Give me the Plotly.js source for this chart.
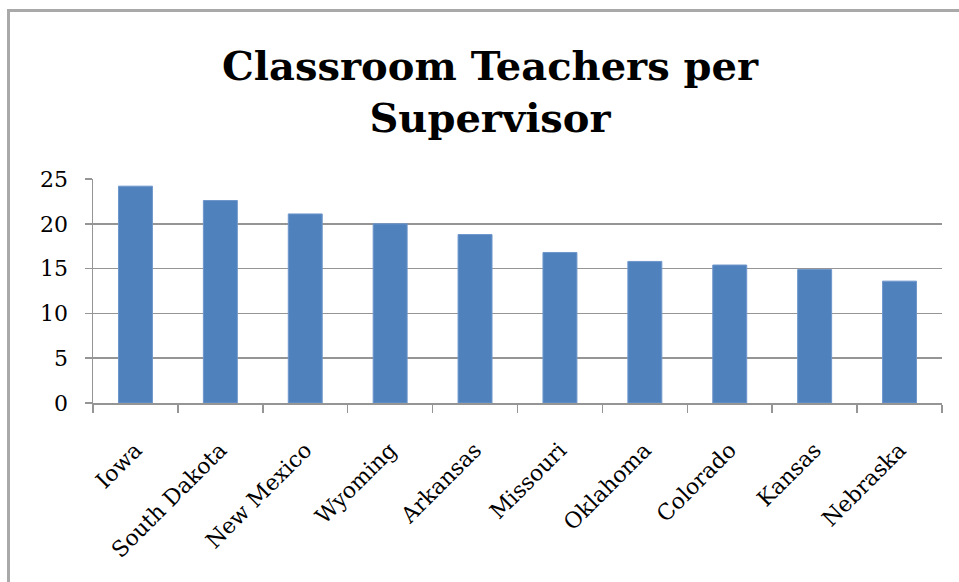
<!DOCTYPE html>
<html>
<head>
<meta charset="utf-8">
<script src="https://cdn.plot.ly/plotly-3.0.1.min.js"></script>
<style>
  html, body { margin: 0; padding: 0; background: #fff; }
  #wrap { position: relative; width: 959px; height: 582px; overflow: hidden; }
  #chart { width: 959px; height: 582px; }
  #frame { position: absolute; left: 7px; top: 9px; right: -10px; bottom: -10px;
           border-left: 3px solid #a9a9a9; border-top: 3px solid #a9a9a9; pointer-events: none; }
</style>
</head>
<body>
<div id="wrap">
  <div id="chart"></div>
  <div id="frame"></div>
</div>
<script>
const states = ["Iowa", "South Dakota", "New Mexico", "Wyoming", "Arkansas",
                "Missouri", "Oklahoma", "Colorado", "Kansas", "Nebraska"];
const teachersPerSupervisor = [24.2, 22.6, 21.1, 20.0, 18.8, 16.8, 15.8, 15.4, 14.9, 13.6];
const yTicks = [0, 5, 10, 15, 20, 25];
const chartTitle = "Classroom Teachers per<br>Supervisor";

const gridGray = "#959595";
const serif = "DejaVu Serif, Liberation Serif, serif";

Plotly.newPlot("chart", [{
  type: "bar",
  x: states,
  y: teachersPerSupervisor,
  marker: { color: "#4f81bd", line: { color: "#6f97cc", width: 1 } },
  hoverinfo: "x+y"
}], {
  width: 959, height: 582,
  paper_bgcolor: "#ffffff", plot_bgcolor: "#ffffff",
  margin: { l: 93, r: 17, t: 179, b: 179 },
  bargap: 0.6,
  showlegend: false,
  title: {
    text: chartTitle,
    font: { family: serif, size: 40, color: "#000", weight: "bold" },
    x: 0.511, xref: "container", xanchor: "center",
    y: 0.863, yref: "container", yanchor: "middle"
  },
  xaxis: {
    type: "category",
    showline: true, linecolor: gridGray, linewidth: 1.5,
    ticks: "outside", tickson: "boundaries", ticklen: 8, tickcolor: gridGray, tickwidth: 1.5,
    tickangle: -45,
    tickfont: { family: serif, size: 22, color: "#000" },
    ticklabelstandoff: 24,
    showgrid: false, zeroline: false, fixedrange: true
  },
  yaxis: {
    range: [0, 25],
    tickvals: yTicks,
    ticktext: yTicks.map(String),
    showline: true, linecolor: gridGray, linewidth: 1.5,
    ticks: "outside", ticklen: 7, tickcolor: gridGray, tickwidth: 1.5,
    tickfont: { family: serif, size: 22, color: "#000" },
    ticklabelstandoff: 12,
    showgrid: true, gridcolor: gridGray, gridwidth: 1.5,
    zeroline: false, fixedrange: true
  }
}, { displayModeBar: false, staticPlot: true });
</script>
</body>
</html>
